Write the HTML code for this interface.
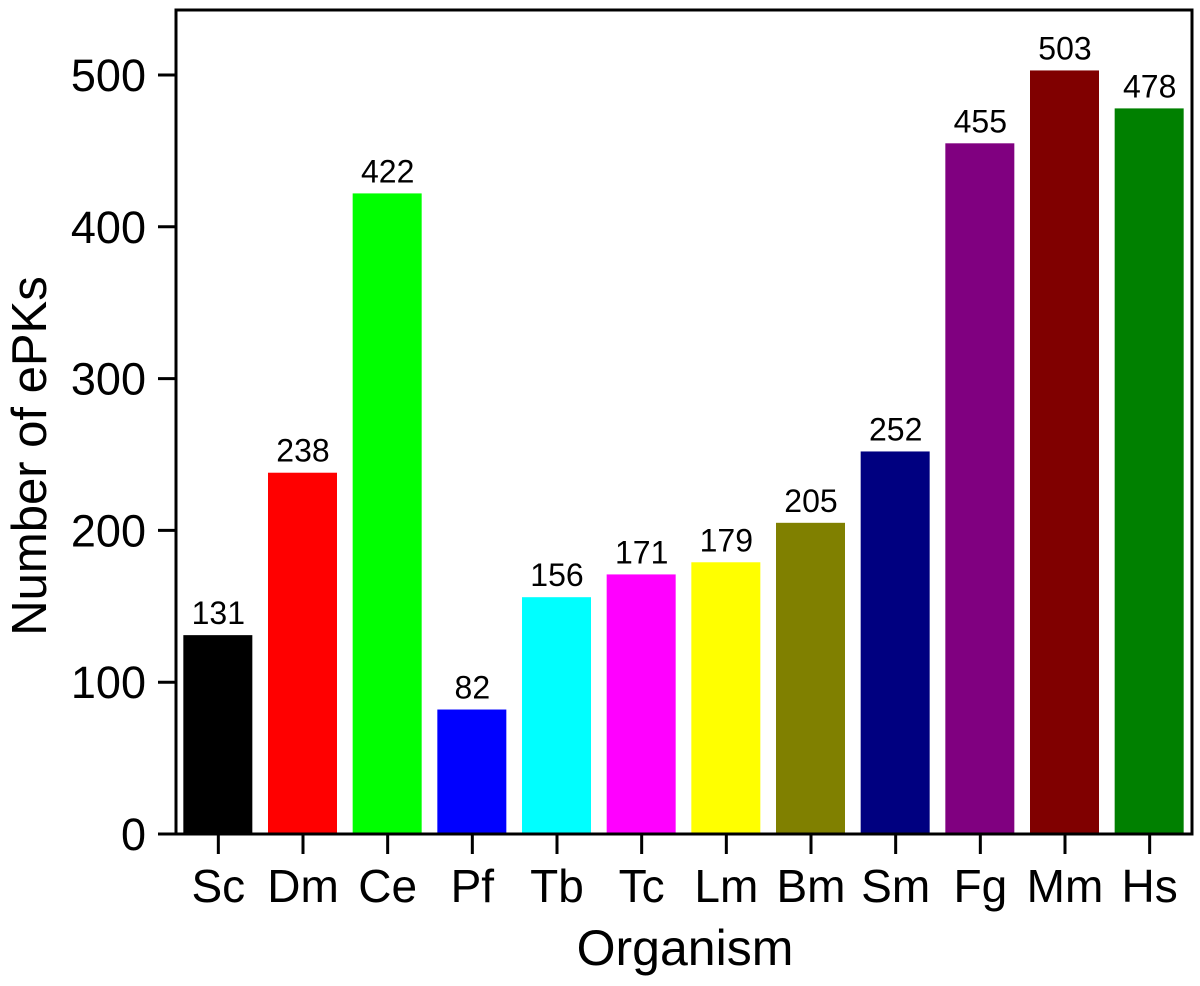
<!DOCTYPE html>
<html><head><meta charset="utf-8"><style>
body{margin:0;background:#fff;}
svg text{font-family:"Liberation Sans",Arial,sans-serif;fill:#000;}
</style></head><body>
<svg id="chart" width="1200" height="981"></svg>
<script>
const categories=["Sc","Dm","Ce","Pf","Tb","Tc","Lm","Bm","Sm","Fg","Mm","Hs"];
const values=[131,238,422,82,156,171,179,205,252,455,503,478];
const colors=["#000000","#ff0000","#00ff00","#0000ff","#00ffff","#ff00ff","#ffff00","#808000","#000080","#800080","#800000","#008000"];
const yTicks=[0,100,200,300,400,500];
const L=176,R=1192,T=10,B=834,Y500=75;
const svg=document.getElementById('chart');
const NS='http://www.w3.org/2000/svg';
const y=v=>B-(B-Y500)*v/500;
const step=(R-L)/categories.length;
const x=i=>L+step*(i+0.5);
function mk(t,a){const e=document.createElementNS(NS,t);for(const k in a)e.setAttribute(k,a[k]);svg.appendChild(e);return e;}
values.forEach((v,i)=>{
  const r=mk('rect',{x:x(i)-35,y:y(v),width:69,height:B-y(v),fill:colors[i]});
  
  
  const t=mk('text',{x:x(i),y:y(v)-11,'text-anchor':'middle','font-size':32});
  t.textContent=v;
  
  
  const tk=mk('line',{x1:x(i),x2:x(i),y1:B,y2:B+20,stroke:'#000','stroke-width':3});
  
  
  const c=mk('text',{x:x(i),y:902,'text-anchor':'middle','font-size':46});
  c.textContent=categories[i];
  
  
});
yTicks.forEach(v=>{
  const tk=mk('line',{x1:L-18,x2:L,y1:y(v),y2:y(v),stroke:'#000','stroke-width':3});
  
  
  const t=mk('text',{x:L-30,y:y(v)+16,'text-anchor':'end','font-size':45});
  t.textContent=v;
  
  
});
const f=mk('rect',{x:L,y:T,width:R-L,height:B-T,fill:'none',stroke:'#000','stroke-width':3});


const xt=mk('text',{x:685,y:965,'text-anchor':'middle','font-size':50});
xt.textContent='Organism';


const yt=mk('text',{x:0,y:0,'text-anchor':'middle','font-size':49,transform:'translate(46,456) rotate(-90)'});
yt.textContent='Number of ePKs';


</script>
</body></html>
